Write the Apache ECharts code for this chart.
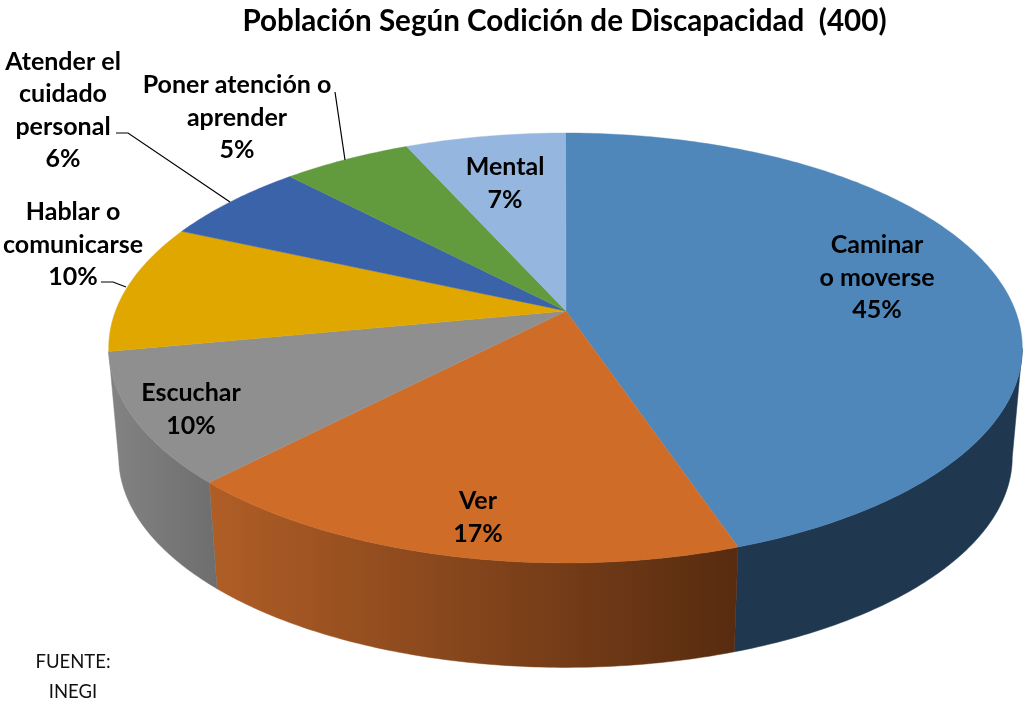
<!DOCTYPE html>
<html>
<head>
<meta charset="utf-8">
<style>html,body{margin:0;padding:0;background:#fff}#c{width:1023px;height:704px}</style>
<script src="https://cdn.jsdelivr.net/npm/echarts@6/dist/echarts.min.js"></script>
</head>
<body>
<div id="c"></div>
<script>
// ---- data (slice shares; labels show them rounded) ----
const categories = ['Caminar\no moverse', 'Ver', 'Escuchar', 'Hablar o\ncomunicarse', 'Atender el\ncuidado\npersonal', 'Poner atención o\naprender', 'Mental'];
const shares = [44.8, 17.4, 9.8, 9.7, 6.2, 5.4, 6.7];
const titleText = 'Población Según Codición de Discapacidad  (400)';
const sourceLines = ['FUENTE:', 'INEGI'];

// ---- styles ----
const topColors = ['#4f87bb', '#cf6c28', '#8f8f8f', '#e0a700', '#3b63aa', '#629a3e', '#95b6df'];
const wallColors = [['#1f374f', '#1f374f'], ['#b05e26', '#572b10'], ['#838383', '#6e6e6e'], null, null, null, null];
const FONT = 'Lato, "Open Sans", sans-serif';

// ---- perspective geometry of the tilted disc ----
const apex = { x: 566, y: 311 }, discX = 565.5, radiusX = 450, radiusY = 208.6, persp = 0.172;
const scaleBottom = 0.978, bottomY = 421;
function topPoint(t) {
  const u = Math.sin(t), v = Math.cos(t), d = 1 + persp * v;
  return [discX + radiusX * u / d, apex.y - radiusY * v / d];
}
function bottomPoint(t) {
  const p = topPoint(t);
  return [discX + (p[0] - discX) * scaleBottom, bottomY + (p[1] - apex.y) * scaleBottom];
}
const total = shares.reduce((a, b) => a + b, 0);
function sliceAngles(i) {
  let s = 0;
  for (let k = 0; k < i; k++) s += shares[k];
  return [s / total * 2 * Math.PI, (s + shares[i]) / total * 2 * Math.PI];
}
function arc(fn, a, b) {
  const n = Math.max(4, Math.ceil(Math.abs(b - a) * 80)), pts = [];
  for (let i = 0; i <= n; i++) pts.push(fn(a + (b - a) * i / n));
  return pts;
}
// angle of the disc's widest point, where the wall's outline leaves the top face
const silhouette = Math.acos(-persp);
// label anchors (centre of the text block) and leader lines, picture pixels
const labelAnchors = [[877, 277.5], [478, 517.5], [191, 409.5], [73, 244.5], [63, 110.5], [237, 117.5], [505, 183.5]];
const leaders = [
  [[116, 133], [128, 133], [230, 202]],
  [[335, 92], [345, 160]],
  [[101, 282], [113, 282], [126, 287]]
];

const renderWall = function (params, api) {
  const i = params.dataIndex;
  const colors = wallColors[i];
  if (!colors) return { type: 'group', children: [] };
  const ang = sliceAngles(i);
  const a = Math.max(ang[0], silhouette);
  const b = Math.min(ang[1], 2 * Math.PI - silhouette);
  const upper = arc(topPoint, a, b);
  const lower = arc(bottomPoint, a, b).reverse();
  const pts = upper.concat(lower);
  const xs = pts.map(p => p[0]);
  const fill = new echarts.graphic.LinearGradient(Math.min(...xs), 0, Math.max(...xs), 0,
    [{ offset: 0, color: colors[0] }, { offset: 1, color: colors[1] }], true);
  return { type: 'polygon', shape: { points: pts }, style: { fill: fill, stroke: fill, lineWidth: 0.5 } };
};
const renderTop = function (params, api) {
  const i = params.dataIndex;
  const ang = sliceAngles(i);
  const pts = [[apex.x, apex.y]].concat(arc(topPoint, ang[0], ang[1]));
  return { type: 'polygon', shape: { points: pts }, style: { fill: topColors[i], stroke: topColors[i], lineWidth: 0.4 } };
};
const renderLabel = function (params, api) {
  const i = params.dataIndex;
  return {
    type: 'text',
    x: labelAnchors[i][0], y: labelAnchors[i][1],
    style: {
      text: categories[i] + '\n' + Math.round(api.value(0)) + '%',
      fill: '#000', font: 'bold 25px ' + FONT, lineHeight: 32.4,
      align: 'center', verticalAlign: 'middle'
    }
  };
};

const seriesData = shares.map(v => [v]);
const option = {
  animation: false,
  backgroundColor: '#ffffff',
  title: {
    text: titleText, left: 559.5, top: 1, textAlign: 'center',
    textStyle: { fontFamily: FONT, fontWeight: 'bold', fontSize: 29.6, color: '#000' }
  },
  series: [
    { type: 'custom', name: 'Paredes', coordinateSystem: 'none', silent: true, data: seriesData, renderItem: renderWall, z: 1 },
    { type: 'custom', name: 'Población', coordinateSystem: 'none', silent: true, data: seriesData, renderItem: renderTop, z: 2 },
    { type: 'custom', name: 'Etiquetas', coordinateSystem: 'none', silent: true, data: seriesData, renderItem: renderLabel, z: 4 }
  ],
  graphic: leaders.map(l => ({
    type: 'polyline', z: 3, shape: { points: l }, style: { stroke: '#000', lineWidth: 1.2, fill: null }
  })).concat(sourceLines.map((t, i) => ({
    type: 'text', z: 4, x: 73, y: 662 + i * 30,
    style: { text: t, fill: '#111', font: '18.5px ' + FONT, align: 'center', verticalAlign: 'middle' }
  })))
};
echarts.init(document.getElementById('c'), null, { renderer: 'canvas' }).setOption(option);
</script>
</body>
</html>
